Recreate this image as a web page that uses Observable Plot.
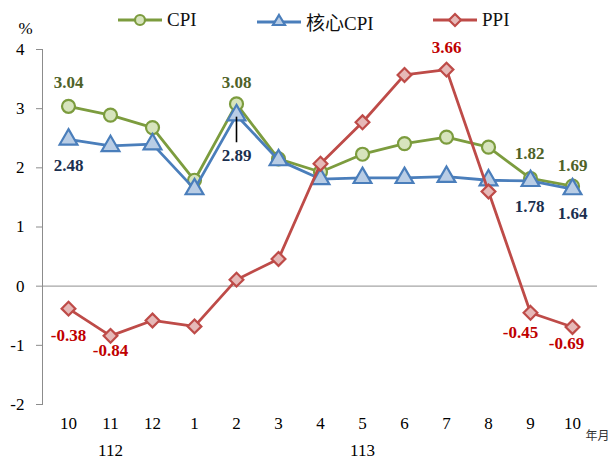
<!DOCTYPE html>
<html>
<head>
<meta charset="utf-8">
<script src="https://cdn.jsdelivr.net/npm/d3@7"></script>
<script src="https://cdn.jsdelivr.net/npm/@observablehq/plot@0.6"></script>
<style>
  body { margin: 0; background: #fff; }
  #wrap { position: relative; width: 613px; height: 459px; font-family: "Liberation Serif", "Noto Sans CJK TC", serif; }
  .leg { position: absolute; display: flex; align-items: center; font-size: 19px; color: #111; white-space: nowrap; }
  .leg svg { display: block; margin-right: 5px; }
</style>
</head>
<body>
<div id="wrap"><div id="chart"></div></div>
<script>
// ---- data ----
const months = ["10", "11", "12", "1", "2", "3", "4", "5", "6", "7", "8", "9", "10"];
const yearLabels = ["112", "113"];
const yearTickIndex = [1, 7];
const yTicks = [-2, -1, 0, 1, 2, 3, 4];
const seriesNames = ["CPI", "核心CPI", "PPI"];
const cpi  = [3.04, 2.89, 2.68, 1.79, 3.08, 2.15, 1.93, 2.23, 2.41, 2.52, 2.35, 1.82, 1.69];
const core = [2.48, 2.37, 2.40, 1.64, 2.89, 2.13, 1.81, 1.83, 1.83, 1.85, 1.79, 1.78, 1.64];
const ppi  = [-0.38, -0.84, -0.58, -0.68, 0.11, 0.46, 2.07, 2.77, 3.57, 3.66, 1.60, -0.45, -0.69];

// ---- styles ----
const styles = [
  {line: "#7c9c3e", fill: "#d7e4bd", symbol: "circle", r: 6.5, label: "#4f6228"},
  {line: "#4a7ebb", fill: "#b9cde5", symbol: "triangle", r: 6.6, label: "#1b2f4f"},
  {line: "#be4b48", fill: "#e6b9b8", symbol: "diamond2", r: 6.2, label: "#c00000"}
];
const values = [cpi, core, ppi];
// labelled points: [series, index, dx, dy]
const labelSpec = [
  [0, 0, 0, -24], [0, 4, 0, -21], [0, 11, -1, -25], [0, 12, 0, -21],
  [1, 0, 0, 26], [1, 4, 0, 40], [1, 11, -1, 26], [1, 12, 0, 24],
  [2, 0, 0, 27], [2, 1, 0, 15], [2, 9, 0, -22], [2, 11, -10, 20], [2, 12, -6, 17]
];

const idx = d3.range(months.length);
const seriesData = values.map((vals, s) => vals.map((v, i) => ({i, v, s})));

const marks = [
  Plot.ruleY([0], {stroke: "#a6a6a6", strokeWidth: 1.2}),
  Plot.frame({anchor: "left", stroke: "#8c8c8c"}),
  Plot.axisY({ticks: yTicks, tickSize: 6, tickPadding: 12, stroke: "#8c8c8c", fontSize: 17, tickFormat: d => String(d), label: null}),
  Plot.axisX({ticks: idx, tickSize: 0, tickPadding: 12, fontSize: 17, tickFormat: i => months[i], label: null}),
  Plot.axisX({ticks: yearTickIndex, tickSize: 0, tickPadding: 39, fontSize: 17, tickFormat: i => yearLabels[yearTickIndex.indexOf(i)], label: null}),
  Plot.text(["年月"], {frameAnchor: "bottom-right", textAnchor: "start", lineAnchor: "middle", dx: -12, dy: 32, fontSize: 12, fill: "#333", fontFamily: "Noto Sans CJK TC"}),
  Plot.text(["%"], {frameAnchor: "top-left", textAnchor: "middle", lineAnchor: "middle", dx: -17, dy: -21, fontSize: 17})
];

seriesData.forEach((data, s) => {
  const st = styles[s];
  marks.push(Plot.line(data, {x: "i", y: "v", stroke: st.line, strokeWidth: 2.8}));
  marks.push(Plot.dot(data, {x: "i", y: "v", symbol: st.symbol, r: st.r, fill: st.fill, stroke: st.line, strokeWidth: 2.2}));
});

marks.push(Plot.ruleX([4], {x: d => d, y1: i => core[i], y2: i => core[i] - 0.5, insetTop: 2, insetBottom: 2, stroke: "#000", strokeWidth: 1.6}));

labelSpec.forEach(([s, i, dx, dy]) => {
  marks.push(Plot.text([i], {
    x: d => d, y: d => values[s][d], text: d => values[s][d].toFixed(2),
    dx, dy, fill: styles[s].label, fontWeight: "bold", fontSize: 17
  }));
});

const chart = Plot.plot({
  width: 613, height: 459,
  marginLeft: 42, marginRight: 16, marginTop: 49, marginBottom: 55,
  style: {fontFamily: "'Liberation Serif', serif", background: "#fff", color: "#000", overflow: "visible"},
  x: {type: "point", domain: idx, padding: 0.5, axis: null},
  y: {domain: [-2, 4], axis: null},
  marks
});
document.getElementById("chart").appendChild(chart);

// ---- legend ----
const legendX = [118, 257, 433];
const wrap = document.getElementById("wrap");
seriesNames.forEach((name, s) => {
  const st = styles[s];
  const div = document.createElement("div");
  div.className = "leg";
  div.style.left = legendX[s] + "px";
  div.style.top = "8px";
  let sym;
  if (st.symbol === "circle") sym = `<circle cx="22" cy="12" r="5" fill="${st.fill}" stroke="${st.line}" stroke-width="2.2"/>`;
  else if (st.symbol === "triangle") sym = `<path d="M22,5 L28,15 L16,15 Z" fill="${st.fill}" stroke="${st.line}" stroke-width="2.2"/>`;
  else sym = `<path d="M22,6 L28,12 L22,18 L16,12 Z" fill="${st.fill}" stroke="${st.line}" stroke-width="2.2"/>`;
  div.innerHTML = `<svg width="44" height="24"><line x1="0" x2="44" y1="12" y2="12" stroke="${st.line}" stroke-width="2.8"/>${sym}</svg><span>${name}</span>`;
  wrap.appendChild(div);
});
</script>
</body>
</html>
